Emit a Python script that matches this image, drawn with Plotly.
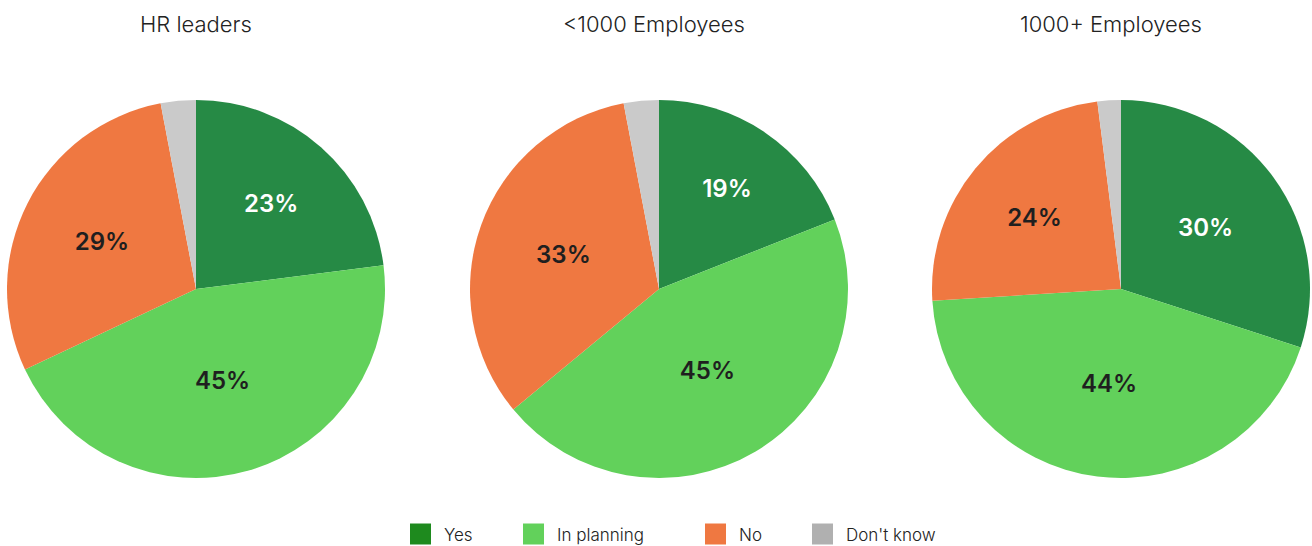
import plotly.graph_objects as go

# Survey answers per group (percent of respondents)
categories = ["Yes", "In planning", "No", "Don't know"]
groups = ["HR leaders", "<1000 Employees", "1000+ Employees"]
hr_leaders = [23, 45, 29, 3]
under_1000 = [19, 45, 33, 3]
over_1000 = [30, 44, 24, 2]
series = [hr_leaders, under_1000, over_1000]

slice_colors = ["#268a45", "#62d15b", "#ef7841", "#cacaca"]
legend_colors = ["#1e8a1e", "#62d15b", "#ef7841", "#b0b0b0"]
label_colors = ["#ffffff", "#1f1f1f", "#1f1f1f", "#1f1f1f"]

W, H = 1312, 546
FONT = "Inter"

fig = go.Figure()

# pie centres and radius in pixels
centers_x = [196, 659, 1121]
title_x = [196, 654, 1111]
center_y = 289
radius = 189

for name, vals, cx, tx in zip(groups, series, centers_x, title_x):
    texts = [f"{v}%" if c != "Don't know" else "" for v, c in zip(vals, categories)]
    fig.add_trace(go.Pie(
        labels=categories,
        values=vals,
        text=texts,
        textinfo="text",
        textposition="inside",
        insidetextorientation="horizontal",
        insidetextfont=dict(family=FONT, size=24, color=label_colors, weight=600),
        marker=dict(colors=slice_colors, line=dict(width=0)),
        sort=False,
        direction="clockwise",
        rotation=0,
        showlegend=False,
        hoverinfo="label+percent",
        domain=dict(
            x=[(cx - radius) / W, (cx + radius) / W],
            y=[1 - (center_y + radius) / H, 1 - (center_y - radius) / H],
        ),
    ))
    fig.add_annotation(
        text=name, x=tx / W, y=1 - 24 / H, xref="paper", yref="paper",
        xanchor="center", yanchor="middle", showarrow=False,
        font=dict(family=FONT, size=22, color="#222222", weight=300),
    )

# legend row at the bottom
legend_x = [410, 523, 705, 812]
sq = 21
ly = 534
for lbl, col, lx in zip(categories, legend_colors, legend_x):
    fig.add_shape(
        type="rect", xref="paper", yref="paper",
        x0=lx / W, x1=(lx + sq) / W,
        y0=1 - (ly + sq / 2) / H, y1=1 - (ly - sq / 2) / H,
        fillcolor=col, line=dict(width=0),
    )
    fig.add_annotation(
        text=lbl, x=(lx + sq + 11) / W, y=1 - (ly + 1) / H, xref="paper", yref="paper",
        xanchor="left", yanchor="middle", showarrow=False,
        font=dict(family=FONT, size=17, color="#222222", weight=300),
    )

fig.update_layout(
    width=W, height=H,
    margin=dict(l=0, r=0, t=0, b=0),
    paper_bgcolor="white",
    plot_bgcolor="white",
)

fig.write_html("out.html")
